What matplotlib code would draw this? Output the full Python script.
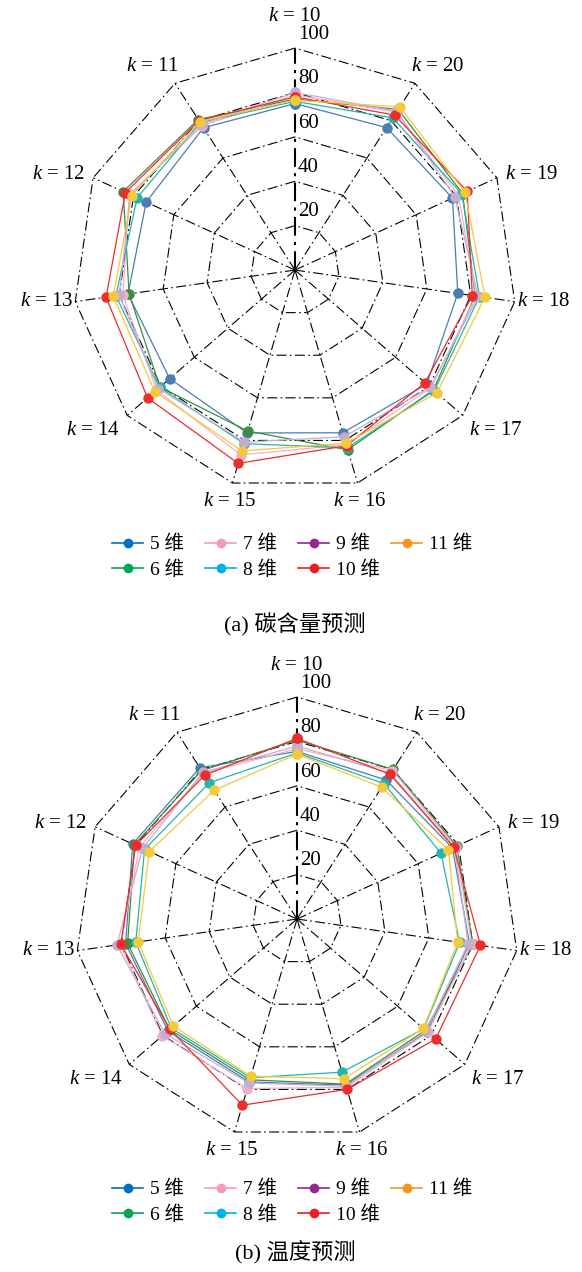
import numpy as np
import matplotlib
matplotlib.use('Agg')
import matplotlib.pyplot as plt
from matplotlib.lines import Line2D
import matplotlib.transforms as mtransforms

plt.rcParams['font.family'] = ['Liberation Serif', 'Noto Sans CJK SC']
plt.rcParams['mathtext.fontset'] = 'custom'
plt.rcParams['mathtext.rm'] = 'Liberation Serif'
plt.rcParams['mathtext.it'] = 'Liberation Serif:italic'

# ---------------- data ----------------
k_values = list(range(10, 21))
series_names = ['5 维', '6 维', '7 维', '8 维', '9 维', '10 维', '11 维']
r_ticks = [20, 40, 60, 80, 100]

# (a) carbon content prediction, order k = 10 ... 20
carbon_5 = [75.0, 76.2, 73.7, 76.0, 74.7, 76.5, 76.4, 78.5, 74.1, 78.0, 76.3]
carbon_6 = [77.0, 80.6, 85.1, 75.5, 80.5, 75.6, 84.4, 82.5, 82.0, 83.0, 86.0]
carbon_7 = [79.0, 77.3, 82.0, 78.4, 82.5, 86.8, 82.0, 81.0, 82.5, 81.0, 84.5]
carbon_8 = [76.0, 79.0, 78.2, 81.5, 80.7, 81.5, 83.5, 83.0, 84.0, 82.6, 81.5]
carbon_9 = [80.0, 78.0, 81.5, 80.0, 81.5, 80.8, 78.3, 80.6, 83.4, 79.2, 85.0]
carbon_10 = [78.0, 80.0, 84.0, 86.0, 87.9, 90.8, 82.5, 77.5, 80.7, 85.3, 83.0]
carbon_11 = [76.5, 79.5, 80.8, 82.7, 83.6, 84.9, 81.4, 84.6, 86.5, 84.2, 87.4]

# (b) temperature prediction, order k = 10 ... 20
temp_5 = [75.5, 81.0, 81.4, 78.0, 77.0, 76.5, 78.0, 77.5, 78.5, 77.0, 74.4]
temp_6 = [80.6, 79.5, 80.5, 77.1, 76.0, 75.5, 77.5, 76.5, 80.0, 79.1, 80.1]
temp_7 = [76.7, 78.0, 78.0, 80.5, 80.4, 79.6, 79.0, 78.0, 79.5, 78.5, 79.5]
temp_8 = [74.8, 73.0, 75.5, 73.4, 75.0, 74.5, 71.9, 75.5, 74.0, 71.3, 72.5]
temp_9 = [77.9, 78.5, 76.5, 82.0, 78.8, 77.0, 78.5, 77.0, 77.9, 78.0, 78.0]
temp_10 = [81.4, 77.0, 79.9, 80.2, 75.8, 87.4, 80.0, 82.6, 83.5, 77.7, 77.5]
temp_11 = [74.3, 69.0, 73.2, 72.3, 73.7, 73.8, 75.0, 75.3, 73.1, 75.0, 70.6]

carbon_data = [carbon_5, carbon_6, carbon_7, carbon_8, carbon_9, carbon_10, carbon_11]
temp_data = [temp_5, temp_6, temp_7, temp_8, temp_9, temp_10, temp_11]

plot_colors = ['#4a7db5', '#3d8c40', '#f4aec8', '#22b5ad', '#c3aed3', '#ee2c2c', '#f5c93a']
legend_colors = ['#0070c0', '#00a651', '#f49ac1', '#00aeef', '#92278f', '#ed1c24', '#f7941d']

FS = 15
LFS = 14
fig = plt.figure(figsize=(5.82, 12.72), dpi=100)


def draw_radar(ax, data):
    n = len(k_values)
    theta = np.linspace(0, 2 * np.pi, n, endpoint=False)
    theta_c = np.append(theta, theta[0])
    ax.set_theta_offset(np.pi / 2)
    ax.set_theta_direction(1)
    ax.set_ylim(0, 100)
    ax.set_xticks([])
    ax.set_yticks([])
    ax.grid(False)
    ax.spines['polar'].set_visible(False)
    ax.patch.set_visible(False)
    ls = (0, (9, 3, 1.5, 3))
    for r in r_ticks:
        ax.plot(theta_c, [r] * (n + 1), color='black', lw=0.8, ls=ls,
                zorder=1, clip_on=False)
    for i, t in enumerate(theta):
        ax.plot([t, t], [0, 100], color='black', lw=1.5 if i == 0 else 0.8,
                ls=ls, zorder=1, clip_on=False)
    for vals, c in zip(data, plot_colors):
        v = list(vals) + [vals[0]]
        ax.plot(theta_c, v, color=c, lw=0.9, marker='o', ms=6.5,
                zorder=3, clip_on=False)
    # axis labels
    for i, (t, k) in enumerate(zip(theta, k_values)):
        phi = np.pi / 2 + t
        c, s = np.cos(phi), np.sin(phi)
        ha = 'center' if abs(c) < 0.3 else ('left' if c > 0 else 'right')
        va = 'center' if abs(s) < 0.5 else ('bottom' if s > 0 else 'top')
        r = 104
        if i == 0:
            r = 110
        elif abs(s) < 0.2:
            r = 101
        dx = 0
        if s > 0.6 and abs(c) > 0.3:
            dx = -6.5 * np.sign(c)
        tr = mtransforms.offset_copy(ax.transData, fig=fig, x=dx, y=0, units='points')
        ax.text(t, r, f'$k$ = {k}', ha=ha, va=va, fontsize=FS,
                transform=tr, clip_on=False)
    # radial tick labels
    tr = mtransforms.offset_copy(ax.transData, fig=fig, x=2, y=3, units='points')
    for r in r_ticks:
        ax.text(0, r, str(r), ha='left', va='bottom', fontsize=FS,
                transform=tr, clip_on=False, zorder=4)


ax1 = fig.add_axes([0.1254, 0.6132, 0.7629, 0.349], projection='polar')
draw_radar(ax1, carbon_data)
ax2 = fig.add_axes([0.1289, 0.1030, 0.7629, 0.349], projection='polar')
draw_radar(ax2, temp_data)

handles = [Line2D([0], [0], color=c, lw=1.2, marker='o', ms=6) for c in legend_colors]
columns = [[0, 1], [2, 3], [4, 5], [6]]
col_x = [112, 205, 298, 391]
for ytop in (535, 1180):
    for idx, x0 in zip(columns, col_x):
        fig.legend([handles[j] for j in idx], [series_names[j] for j in idx],
                   loc='upper left', bbox_to_anchor=(x0 / 582, 1 - ytop / 1272),
                   ncol=1, frameon=False, fontsize=LFS, handlelength=1.6,
                   handletextpad=0.35, labelspacing=0.35,
                   borderpad=0, borderaxespad=0)

fig.text(295 / 582, 1 - 625 / 1272, '(a) 碳含量预测', ha='center', va='center', fontsize=16)
fig.text(295 / 582, 1 - 1253 / 1272, '(b) 温度预测', ha='center', va='center', fontsize=16)

fig.savefig('out.png', dpi=100)
